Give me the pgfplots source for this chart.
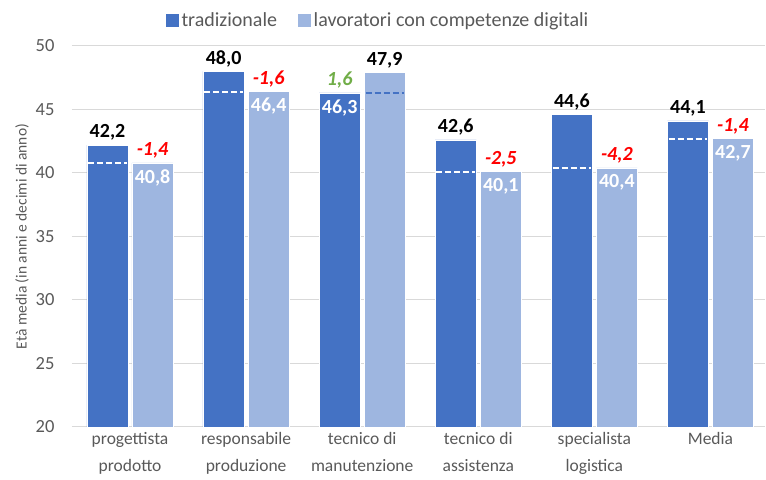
\documentclass[border=0pt]{standalone}
\usepackage{pgfplots}
\usepackage{pgfplotstable}
\pgfplotsset{compat=1.18}
\usepackage{fontspec}
\setmainfont{Carlito}
\definecolor{dark}{HTML}{4472C4}
\definecolor{light}{HTML}{9EB6E0}
\definecolor{txtgray}{HTML}{595959}
\definecolor{gridgray}{HTML}{D9D9D9}
\definecolor{myred}{HTML}{FF0000}
\definecolor{mygreen}{HTML}{70AD47}

\pgfplotstableread{
x trad dig
0 42.2 40.8
1 48.0 46.4
2 46.3 47.9
3 42.6 40.1
4 44.6 40.4
5 44.1 42.7
}\data

% labels above bars (black)
\pgfplotstableread{
x y lab
-0.194 42.2 42,2
0.806 48.0 48,0
2.194 47.9 47,9
2.806 42.6 42,6
3.806 44.6 44,6
4.806 44.1 44,1
}\blacklab

% white labels inside bars
\pgfplotstableread{
x y lab
0.194 40.8 40,8
1.194 46.4 46,4
1.806 46.3 46,3
3.194 40.1 40,1
4.194 40.4 40,4
5.194 42.7 42,7
}\whitelab

% red differences
\pgfplotstableread{
x y lab
0.194 40.8 -1,4
1.194 46.4 -1,6
3.194 40.1 -2,5
4.194 40.4 -4,2
5.194 42.7 -1,4
}\redlab

% green differences
\pgfplotstableread{
x y lab
1.806 46.3 1,6
}\greenlab

\begin{document}
\begin{tikzpicture}
\begin{axis}[
  scale only axis,
  width=693pt, height=381pt,
  xmin=-0.5, xmax=5.47,
  ymin=20, ymax=50,
  ytick={20,25,30,35,40,45,50},
  xtick={0,1,2,3,4,5},
  /pgf/number format/assume math mode=true,
  xticklabels={progettista\\prodotto, responsabile\\produzione, tecnico di\\manutenzione, tecnico di\\assistenza, specialista\\logistica, Media},
  xticklabel style={align=center, font=\fontsize{17.5}{27}\selectfont, text=txtgray, yshift=-2pt},
  yticklabel style={font=\fontsize{18.5}{20}\selectfont, text=txtgray, xshift=-14pt},
  major tick length=0pt,
  axis x line*=bottom,
  axis y line*=left,
  y axis line style={draw=none},
  x axis line style={draw=gridgray, line width=1pt, -},
  ymajorgrids,
  grid style={draw=gridgray, line width=1pt},
  ylabel={Età media (in anni e decimi di anno)},
  ylabel style={at={(axis description cs:-0.072,0.5)}, anchor=center, font=\fontsize{15.5}{18}\selectfont, text=txtgray},
  legend columns=2,
  legend style={at={(axis description cs:0.441,1.068)}, anchor=center, draw=none, fill=none,
    font=\fontsize{20}{22}\selectfont, text=txtgray,
    /tikz/every even column/.append style={column sep=18pt}},
  legend image code/.code={\fill[#1] (0pt,-7pt) rectangle (14pt,7pt);},
  clip=true,
]
\coordinate (bl) at (rel axis cs:0,0);
\coordinate (tr) at (rel axis cs:1,1);

\addplot[ybar, bar width=0.355, bar shift=-0.194, fill=dark, draw=white, line width=0.6pt] table[x=x, y=trad]{\data};
\addlegendentry{tradizionale}
\addplot[ybar, bar width=0.355, bar shift=0.194, fill=light, draw=white, line width=0.6pt] table[x=x, y=dig]{\data};
\addlegendentry{lavoratori con competenze digitali}

% dashed reference lines
\addplot[forget plot, white, line width=2pt, dash pattern=on 6pt off 3pt] coordinates {(-0.36,40.8) (-0.03,40.8)};
\addplot[forget plot, white, line width=2pt, dash pattern=on 6pt off 3pt] coordinates {(0.64,46.4) (0.97,46.4)};
\addplot[forget plot, dark, line width=2pt, dash pattern=on 6pt off 3pt] coordinates {(2.03,46.3) (2.36,46.3)};
\addplot[forget plot, white, line width=2pt, dash pattern=on 6pt off 3pt] coordinates {(2.64,40.1) (2.97,40.1)};
\addplot[forget plot, white, line width=2pt, dash pattern=on 6pt off 3pt] coordinates {(3.64,40.4) (3.97,40.4)};
\addplot[forget plot, white, line width=2pt, dash pattern=on 6pt off 3pt] coordinates {(4.64,42.7) (4.97,42.7)};

% labels
\addplot[forget plot, draw=none, mark=none, nodes near coords, point meta=explicit symbolic,
  every node near coord/.append style={anchor=south, yshift=1pt, font=\fontsize{20}{22}\selectfont\bfseries, text=black}]
  table[x=x, y=y, meta=lab]{\blacklab};
\addplot[forget plot, draw=none, mark=none, nodes near coords, point meta=explicit symbolic,
  every node near coord/.append style={anchor=north, yshift=-3pt, font=\fontsize{20}{22}\selectfont\bfseries, text=white}]
  table[x=x, y=y, meta=lab]{\whitelab};
\addplot[forget plot, draw=none, mark=none, nodes near coords, point meta=explicit symbolic,
  every node near coord/.append style={anchor=south, yshift=1pt, font=\fontsize{20}{22}\selectfont\bfseries\itshape, text=myred}]
  table[x=x, y=y, meta=lab]{\redlab};
\addplot[forget plot, draw=none, mark=none, nodes near coords, point meta=explicit symbolic,
  every node near coord/.append style={anchor=south, yshift=1pt, font=\fontsize{20}{22}\selectfont\bfseries\itshape, text=mygreen}]
  table[x=x, y=y, meta=lab]{\greenlab};
\end{axis}
\pgfresetboundingbox
\path[use as bounding box] ([shift={(-72pt,-53pt)}]bl) rectangle ([shift={(1pt,46pt)}]tr);
\end{tikzpicture}
\end{document}
